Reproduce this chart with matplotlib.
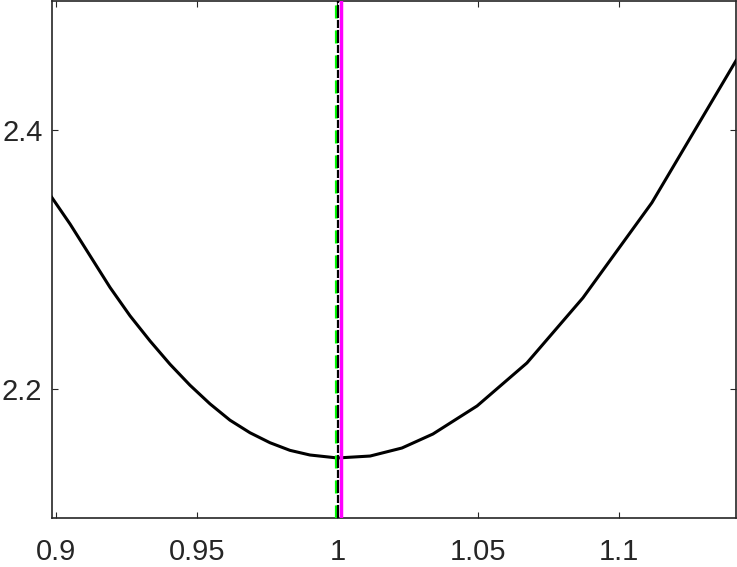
import matplotlib
matplotlib.use("Agg")
import numpy as np
import matplotlib.pyplot as plt

# curve
x_vals = [0.8985, 0.9050, 0.9121, 0.9192, 0.9263, 0.9334, 0.9405, 0.9476,
          0.9547, 0.9618, 0.9689, 0.9760, 0.9831, 0.9902, 1.0000, 1.0116,
          1.0229, 1.0339, 1.0496, 1.0673, 1.0872, 1.1117, 1.1416]
y_vals = [2.3479, 2.3273, 2.3028, 2.2783, 2.2564, 2.2370, 2.2190, 2.2028,
          2.1884, 2.1758, 2.1661, 2.1584, 2.1525, 2.1489, 2.1466, 2.1481,
          2.1543, 2.1651, 2.1868, 2.2200, 2.2703, 2.3438, 2.4536]

# vertical markers
x_green = 0.99930
x_black = 1.00028
x_magenta = 1.00124

x_ticks = [0.9, 0.95, 1.0, 1.05, 1.1]
x_ticklabels = ["0.9", "0.95", "1", "1.05", "1.1"]
y_ticks = [2.2, 2.4]
y_ticklabels = ["2.2", "2.4"]

plt.rcParams['font.family'] = ['Liberation Sans', 'DejaVu Sans']
plt.rcParams['lines.scale_dashes'] = False

fig = plt.figure(figsize=(7.37, 5.67), dpi=100)
ax = fig.add_axes([0.0699, 0.0859, 0.9288, 0.9132])

ax.plot(x_vals, y_vals, color='black', lw=2.2, zorder=3)

ax.axvline(x_green, color='#00ff00', lw=2.3, dashes=(9.4, 8.6), zorder=4)
ax.axvline(x_black, color='black', lw=1.6, dashes=(9.4, 1.4, 5.8, 1.4), zorder=5)
ax.axvline(x_magenta, color='#ff00ff', lw=2.5, zorder=6)

ax.set_xlim(0.8984, 1.1416)
ax.set_ylim(2.1, 2.5)
ax.set_xticks(x_ticks)
ax.set_xticklabels(x_ticklabels)
ax.set_yticks(y_ticks)
ax.set_yticklabels(y_ticklabels)

ax.tick_params(direction='in', top=True, right=True, length=4, width=0.8,
               labelsize=21, labelcolor='#262626', color='#262626')
ax.tick_params(axis='x', pad=14)
ax.tick_params(axis='y', pad=6.5)
for s in ax.spines.values():
    s.set_color('#262626')
    s.set_linewidth(1.2)

fig.savefig("out.png", dpi=100)
